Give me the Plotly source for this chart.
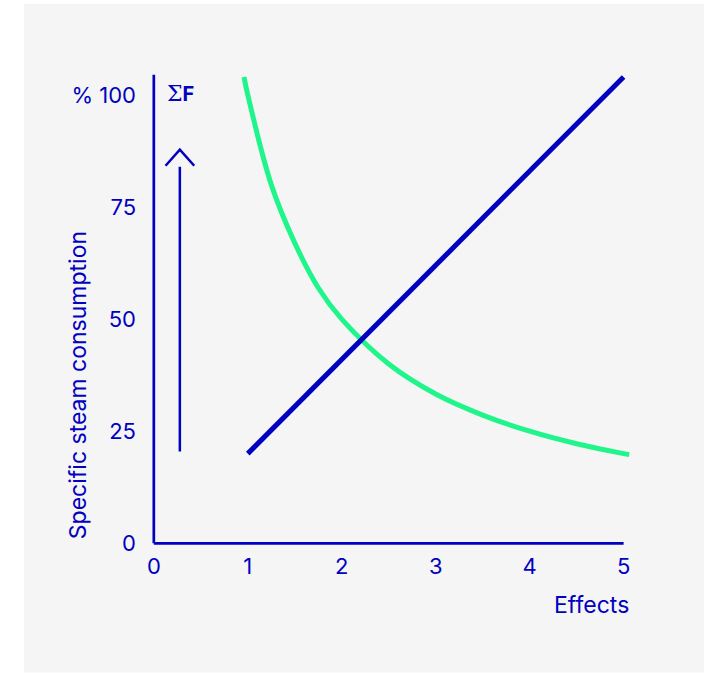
import plotly.graph_objects as go

# Data
effects_line = [1, 2, 3, 4, 5]
sum_f = [20, 41, 62, 83, 104]

effects_curve = [0.96, 1.0, 1.25, 1.5, 1.75, 2.0, 2.5, 3.0, 3.5, 4.0, 4.5, 5.0, 5.06]
steam = [104, 100, 80, 67, 57, 50, 40, 33.3, 28.6, 25, 22.2, 20, 19.8]

y_ticks = [0, 25, 50, 75, 100]
y_ticklabels = ["0", "25", "50", "75", "% 100"]
x_ticks = [0, 1, 2, 3, 4, 5]

# decorative arrow (data units)
arrow_x = 0.277
arrow_y0, arrow_y1 = 20.5, 84.0
chevron_x = [0.125, 0.277, 0.43]
chevron_y = [84.2, 87.8, 84.2]

BLUE = "#0000c0"
GREEN = "#20f58c"
BG = "#f5f5f5"
FONT = "Inter"

fig = go.Figure()
fig.add_trace(go.Scatter(x=effects_curve, y=steam, mode="lines", line=dict(color=GREEN, width=5, shape="spline"),
                         hoverinfo="skip"))
fig.add_trace(go.Scatter(x=effects_line, y=sum_f, mode="lines", line=dict(color=BLUE, width=5),
                         hoverinfo="skip"))

W, H = 704, 673
SX, SY = 94.0, 4.48          # px per data unit
X0, Y0 = 154.0, 543.0        # pixel of data origin
XR = [-0.03, 5.1]
YR = [-0.6, 106]
L = X0 + XR[0] * SX
R = W - (X0 + XR[1] * SX)
T = Y0 - YR[1] * SY
B = H - (Y0 - YR[0] * SY)
pw = W - L - R
ph = H - T - B

def px_x(p):
    return (p - L) / pw

def px_y(p):
    return (H - B - p) / ph

shapes = [
    dict(type="rect", xref="paper", yref="paper", x0=px_x(24), x1=px_x(710), y0=px_y(672), y1=px_y(4),
         fillcolor=BG, line=dict(width=0), layer="below"),
    dict(type="line", xref="x", yref="y", x0=0, x1=5, y0=0, y1=0, line=dict(color=BLUE, width=2.7)),
    dict(type="line", xref="x", yref="y", x0=0, x1=0, y0=0, y1=104.5, line=dict(color=BLUE, width=2.7)),
    dict(type="line", xref="x", yref="y", x0=arrow_x, x1=arrow_x, y0=arrow_y0, y1=arrow_y1,
         line=dict(color=BLUE, width=2.5)),
    dict(type="path", xref="x", yref="y",
         path=f"M {chevron_x[0]} {chevron_y[0]} L {chevron_x[1]} {chevron_y[1]} L {chevron_x[2]} {chevron_y[2]}",
         line=dict(color=BLUE, width=2.5)),
]

annotations = [
    dict(text="Specific steam consumption", textangle=-90, xref="paper", yref="y", x=px_x(78), y=0,
         xanchor="center", yanchor="bottom", showarrow=False, yshift=2,
         font=dict(family=FONT, size=23, color=BLUE)),
    dict(text="Effects", xref="paper", yref="paper", x=px_x(631), y=px_y(605), xanchor="right", yanchor="middle",
         showarrow=False, font=dict(family=FONT, size=23, color=BLUE)),
    dict(text="<span style='font-size:22px;font-family:DejaVu Serif'>Σ</span><b>F</b>", xref="x", yref="y",
         x=0.115, y=100.3, xanchor="left", yanchor="middle",
         showarrow=False, font=dict(family=FONT, size=20, color=BLUE)),
]

fig.update_layout(
    width=W, height=H,
    margin=dict(l=L, r=R, t=T, b=B),
    paper_bgcolor="white",
    plot_bgcolor=BG,
    showlegend=False,
    shapes=shapes,
    annotations=annotations,
    font=dict(family=FONT, size=22, color=BLUE),
    xaxis=dict(range=XR, tickvals=x_ticks, ticktext=[str(v) for v in x_ticks], showgrid=False,
               zeroline=False, showline=False, ticks="", ticklabelstandoff=5,
               tickfont=dict(family=FONT, size=22, color=BLUE)),
    yaxis=dict(range=YR, tickvals=y_ticks, ticktext=y_ticklabels, showgrid=False,
               zeroline=False, showline=False, ticks="", ticklabelstandoff=14,
               tickfont=dict(family=FONT, size=22, color=BLUE)),
)

fig.write_html("out.html", config={"displayModeBar": False},
               post_script="document.body.style.margin='0';document.body.style.overflow='hidden';")
